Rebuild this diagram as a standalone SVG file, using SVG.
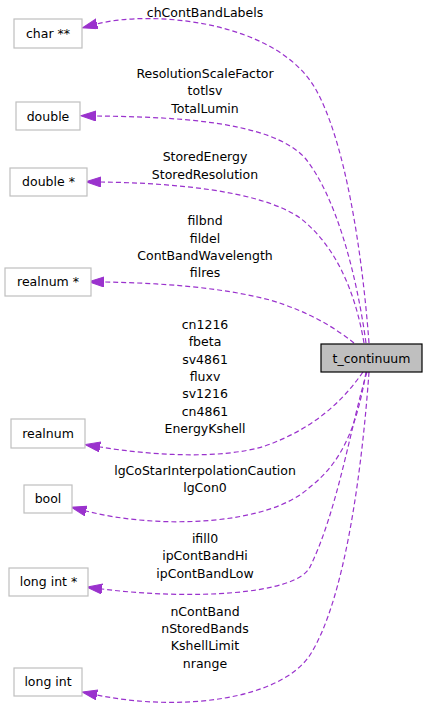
<svg xmlns="http://www.w3.org/2000/svg" width="427" height="719" viewBox="0 0 427 719">
<style>
text{font-family:"DejaVu Sans","Liberation Sans",sans-serif;font-size:12.5px;fill:#000;text-anchor:middle}
.n{fill:#fff;stroke:#bfbfbf;stroke-width:1.2}
.m{fill:#bfbfbf;stroke:#000;stroke-width:1.2}
.e{fill:none;stroke:#9a32cd;stroke-width:1.2;stroke-dasharray:5,3}
</style>
<defs>
<marker id="ah" markerUnits="userSpaceOnUse" markerWidth="16" markerHeight="11" refX="0" refY="5" orient="auto">
<path d="M0,0 L15,5 L0,10 z" fill="#9a32cd" stroke="#9a32cd" stroke-width="1"/>
</marker>
</defs>
<g id="connectors">
<path class="e" marker-end="url(#ah)" d="M369,343 C362,250 345,140 315,88 C275,20 150,10 97,24"/>
<path class="e" marker-end="url(#ah)" d="M366,343 C356,270 335,195 305,158 C270,120 170,117 96,116"/>
<path class="e" marker-end="url(#ah)" d="M364,343 C355,290 335,245 300,218 C260,190 170,183 101,182"/>
<path class="e" marker-end="url(#ah)" d="M354,343 C335,328 310,312 270,300 C220,287 160,283 104,282"/>
<path class="e" marker-end="url(#ah)" d="M363,372 C340,405 310,430 265,446 C220,460 150,455 100,447"/>
<path class="e" marker-end="url(#ah)" d="M366,372 C358,420 345,460 310,487 C270,525 160,530 86,511"/>
<path class="e" marker-end="url(#ah)" d="M367,372 C352,420 338,510 310,567 C296,595 190,600 102,589"/>
<path class="e" marker-end="url(#ah)" d="M369,372 C362,470 345,600 310,655 C280,700 180,712 97,695"/>
</g>
<g id="labels">
<text x="205" y="17">chContBandLabels</text>
<text x="205" y="78">ResolutionScaleFactor</text>
<text x="205" y="95.3">totlsv</text>
<text x="205" y="112.7">TotalLumin</text>
<text x="205" y="161.3">StoredEnergy</text>
<text x="205" y="178.7">StoredResolution</text>
<text x="205" y="225">filbnd</text>
<text x="205" y="242.5">fildel</text>
<text x="205" y="260">ContBandWavelength</text>
<text x="205" y="277">filres</text>
<text x="205" y="329">cn1216</text>
<text x="205" y="346.3">fbeta</text>
<text x="205" y="363.6">sv4861</text>
<text x="205" y="380.9">fluxv</text>
<text x="205" y="398.2">sv1216</text>
<text x="205" y="415.5">cn4861</text>
<text x="205" y="432.8">EnergyKshell</text>
<text x="205" y="475">lgCoStarInterpolationCaution</text>
<text x="205" y="492.3">lgCon0</text>
<text x="205" y="543">ifill0</text>
<text x="205" y="560.3">ipContBandHi</text>
<text x="205" y="577.6">ipContBandLow</text>
<text x="205" y="615.7">nContBand</text>
<text x="205" y="633">nStoredBands</text>
<text x="205" y="650.3">KshellLimit</text>
<text x="205" y="667.6">nrange</text>
</g>
<g id="t_continuum"><rect class="m" x="321" y="344" width="101" height="28"/><text x="371.5" y="362.5">t_continuum</text></g>
<g id="char_pp"><rect class="n" x="14" y="19" width="68" height="29"/><text x="48" y="37.5">char **</text></g>
<g id="double"><rect class="n" x="16" y="102" width="64" height="28"/><text x="48" y="120.5">double</text></g>
<g id="double_p"><rect class="n" x="10" y="168" width="77" height="28"/><text x="48.5" y="186">double *</text></g>
<g id="realnum_p"><rect class="n" x="5" y="268" width="86" height="28"/><text x="48" y="285.5">realnum *</text></g>
<g id="realnum"><rect class="n" x="11" y="419" width="74" height="29"/><text x="48" y="437.5">realnum</text></g>
<g id="bool"><rect class="n" x="24" y="485" width="48" height="28"/><text x="48" y="503">bool</text></g>
<g id="long_int_p"><rect class="n" x="9" y="568" width="79" height="28"/><text x="48.5" y="586">long int *</text></g>
<g id="long_int"><rect class="n" x="14" y="668" width="68" height="28"/><text x="48" y="686">long int</text></g>
</svg>
